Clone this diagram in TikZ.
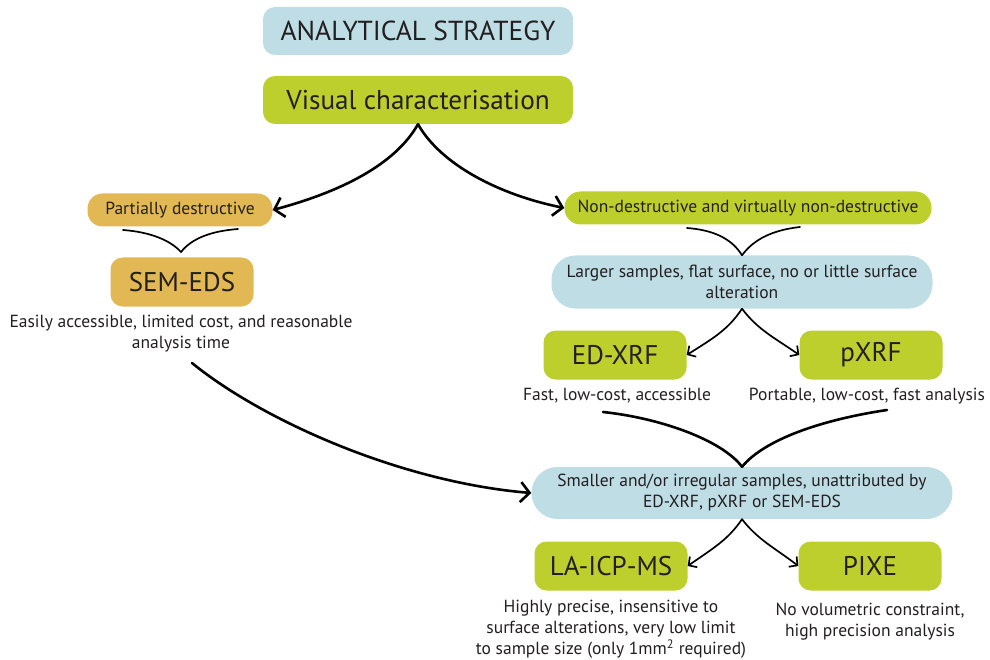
\documentclass[tikz,border=0pt]{standalone}
\usepackage{fontspec}
\setmainfont{PT Sans}
\usetikzlibrary{arrows.meta}
\definecolor{boxblue}{RGB}{191,221,229}
\definecolor{boxgreen}{RGB}{189,207,44}
\definecolor{boxorange}{RGB}{226,184,84}
\definecolor{inkgrey}{RGB}{35,31,32}
\begin{document}
\begin{tikzpicture}[x=1pt,y=-1pt,>={Straight Barb[length=9pt,width=20pt]}]
\tikzset{Box/.style = {rounded corners=12pt,inner sep=0pt,text=inkgrey},
  Pill/.style = {Box,rounded corners=24pt},
  Big/.style = {Box,minimum width=143pt,minimum height=49pt,font=\fontsize{27}{30}\selectfont},
  Small/.style = {font=\fontsize{17.5}{21}\selectfont,align=center,text=inkgrey},
  Thick/.style = {line width=2.6pt,line cap=round},
  Thin/.style = {line width=1.7pt,line cap=round,>={Straight Barb[length=6pt,width=13pt]}}}
\useasboundingbox (0,0) rectangle (990,660);
% top of the strategy
\node[Box,fill=boxblue,minimum width=310pt,minimum height=48pt,font=\fontsize{27.5}{30}\selectfont] (strat) at (418,31) {ANALYTICAL STRATEGY};
\node[Box,fill=boxgreen,minimum width=310pt,minimum height=48pt,font=\fontsize{27.2}{30}\selectfont] (visual) at (418,100) {Visual characterisation};
\node[Box,fill=boxorange,rounded corners=15pt,minimum width=185pt,minimum height=33pt,Small] (partial) at (180,210) {Partially destructive};
\node[Pill,fill=boxgreen,rounded corners=16pt,minimum width=367pt,minimum height=33pt,Small] (nondestr) at (748,208) {Non-destructive and virtually non-destructive};
\draw[Thick,->] (visual.south) .. controls (395,165) and (340,192) .. (partial.east);
\draw[Thick,->] (visual.south) .. controls (441,165) and (500,195) .. (nondestr.west);
% left branch
\node[Big,fill=boxorange] (semeds) at (182,282) {SEM-EDS};
\node[Small] (semcap) at (181,334) {Easily accessible, limited cost, and reasonable\\analysis time};
\coordinate (pa) at (123,230); \coordinate (pb) at (238,229); \coordinate (semtop) at (181,252);
\draw[Thin] (pa) .. controls (150,232) and (170,240) .. (semtop);
\draw[Thin] (pb) .. controls (212,231) and (192,238) .. (semtop);
% right branch, large samples
\node[Pill,fill=boxblue,minimum width=381pt,minimum height=53pt,Small] (larger) at (742,282) {Larger samples, flat surface, no or little surface\\alteration};
\coordinate (na) at (687,228); \coordinate (nb) at (800,227);
\draw[Thin] (na) .. controls (714,230) and (732,239) .. (larger.north);
\draw[Thin] (nb) .. controls (773,230) and (754,239) .. (larger.north);
\node[Big,fill=boxgreen] (edxrf) at (615,355) {ED-XRF};
\node[Big,fill=boxgreen] (pxrf) at (871,355) {pXRF};
\node[Small] (edcap) at (617,396) {Fast, low-cost, accessible};
\node[Small] (pxcap) at (867,396) {Portable, low-cost, fast analysis};
\draw[Thin,->] (larger.south) .. controls (728,330) and (712,339) .. (edxrf.east);
\draw[Thin,->] (larger.south) .. controls (758,330) and (775,338) .. (pxrf.west);
% small samples
\node[Pill,fill=boxblue,rounded corners=26pt,minimum width=421pt,minimum height=52pt,Small] (smaller) at (742,493) {Smaller and/or irregular samples, unattributed by\\ED-XRF, pXRF or SEM-EDS};
\coordinate (ea) at (603,412); \coordinate (eb) at (887,410); \coordinate (semend) at (192,363);
\draw[Thick] (ea) .. controls (660,418) and (722,440) .. (smaller.north);
\draw[Thick] (eb) .. controls (820,420) and (764,440) .. (smaller.north);
\draw[Thick,->] (semend) .. controls (262,420) and (400,482) .. (smaller.west);
\node[Big,fill=boxgreen,minimum width=153pt] (laicp) at (611,566) {LA-ICP-MS};
\node[Big,fill=boxgreen] (pixe) at (870,566) {PIXE};
\draw[Thin,->] (smaller.south) .. controls (728,540) and (712,549) .. (laicp.east);
\draw[Thin,->] (smaller.south) .. controls (758,540) and (775,548) .. (pixe.west);
\node[Small] (lacap) at (611,629) {Highly precise, insensitive to\\surface alterations, very low limit\\to sample size (only 1mm\textsuperscript{2} required)};
\node[Small] (pixecap) at (870,622) {No volumetric constraint,\\high precision analysis};
\end{tikzpicture}
\end{document}
